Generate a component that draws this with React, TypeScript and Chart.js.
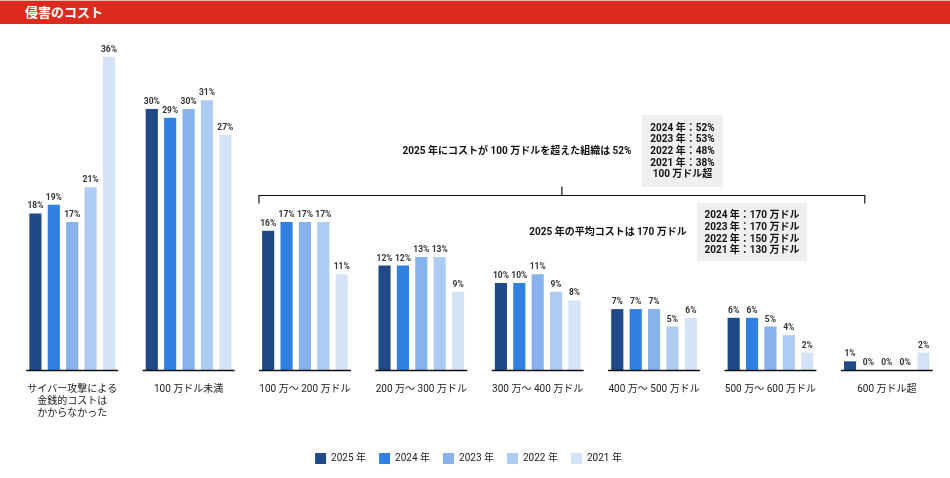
import { useEffect, useRef } from 'react';
import { Chart, registerables } from 'chart.js';

Chart.register(...registerables);

const FONT = 'Roboto, "Noto Sans CJK JP", sans-serif';

// 侵害のコスト（カテゴリ別）
const CATEGORIES: (string | string[])[] = [
  ['サイバー攻撃による', '金銭的コストは', 'かからなかった'],
  '100 万ドル未満',
  '100 万～ 200 万ドル',
  '200 万～ 300 万ドル',
  '300 万～ 400 万ドル',
  '400 万～ 500 万ドル',
  '500 万～ 600 万ドル',
  '600 万ドル超',
];

const YEARS = ['2025 年', '2024 年', '2023 年', '2022 年', '2021 年'];
const COLORS = ['#1F4A87', '#2F80E0', '#87B2EC', '#ADCBF3', '#D5E3F8'];

const Y2025 = [18, 30, 16, 12, 10, 7, 6, 1];
const Y2024 = [19, 29, 17, 12, 10, 7, 6, 0];
const Y2023 = [17, 30, 17, 13, 11, 7, 5, 0];
const Y2022 = [21, 31, 17, 13, 9, 5, 4, 0];
const Y2021 = [36, 27, 11, 9, 8, 6, 2, 2];

const OVER_1M_TEXT = '2025 年にコストが 100 万ドルを超えた組織は 52%';
const OVER_1M_BOX = ['2024 年：52%', '2023 年：53%', '2022 年：48%', '2021 年：38%', '100 万ドル超'];
const AVG_TEXT = '2025 年の平均コストは 170 万ドル';
const AVG_BOX = ['2024 年：170 万ドル', '2023 年：170 万ドル', '2022 年：150 万ドル', '2021 年：130 万ドル'];

const CAT_PCT = 0.79;

const decorPlugin = {
  id: 'decor',
  afterLayout(chart: any) {
    // 凡例をページ中央寄りに少し左へ
    if (chart.legend) {
      chart.legend.left -= 11;
      chart.legend.right -= 11;
    }
  },
  afterDatasetsDraw(chart: any) {
    const { ctx, chartArea, scales } = chart;
    const xs = scales.x;
    const catW = (chartArea.right - chartArea.left) / CATEGORIES.length;

    ctx.save();
    // グループごとのベースライン
    ctx.strokeStyle = '#111';
    ctx.lineWidth = 1.5;
    CATEGORIES.forEach((_, i) => {
      const cx = xs.getPixelForValue(i);
      ctx.beginPath();
      ctx.moveTo(cx - (catW * CAT_PCT) / 2, chartArea.bottom + 0.5);
      ctx.lineTo(cx + (catW * CAT_PCT) / 2, chartArea.bottom + 0.5);
      ctx.stroke();
    });

    // 値ラベル
    ctx.fillStyle = '#333';
    ctx.font = `bold 8.5px ${FONT}`;
    ctx.textAlign = 'center';
    ctx.textBaseline = 'alphabetic';
    chart.data.datasets.forEach((ds: any, di: number) => {
      const meta = chart.getDatasetMeta(di);
      meta.data.forEach((bar: any, i: number) => {
        ctx.fillText(`${ds.data[i]}%`, bar.x, bar.y - 5);
      });
    });

    // 100 万ドル超のブラケット
    const left = xs.getPixelForValue(2) - (catW * CAT_PCT) / 2;
    const right = xs.getPixelForValue(7) - 22;
    const by = 195.5;
    const mid = (left + right) / 2;
    ctx.strokeStyle = '#111';
    ctx.lineWidth = 1.2;
    ctx.beginPath();
    ctx.moveTo(left, by + 8);
    ctx.lineTo(left, by);
    ctx.lineTo(right, by);
    ctx.lineTo(right, by + 8);
    ctx.moveTo(mid, by);
    ctx.lineTo(mid, by - 9);
    ctx.stroke();

    ctx.fillStyle = '#111';
    ctx.font = `bold 10px ${FONT}`;
    ctx.textBaseline = 'middle';
    ctx.fillText(OVER_1M_TEXT, 517, 151);
    ctx.fillText(AVG_TEXT, 608, 232);

    // グレーのボックス
    ctx.fillStyle = '#EFEFEF';
    ctx.fillRect(642, 115, 81, 72);
    ctx.fillRect(697, 203, 110, 58);
    ctx.fillStyle = '#111';
    OVER_1M_BOX.forEach((t, i) => ctx.fillText(t, 682.5, 128 + i * 11.7));
    AVG_BOX.forEach((t, i) => ctx.fillText(t, 752, 215.5 + i * 11.8));
    ctx.restore();
  },
};

export default function App() {
  const canvasRef = useRef<HTMLCanvasElement>(null);

  useEffect(() => {
    if (!canvasRef.current) return;
    const series = [Y2025, Y2024, Y2023, Y2022, Y2021];
    const chart = new Chart(canvasRef.current, {
      type: 'bar',
      data: {
        labels: CATEGORIES,
        datasets: series.map((data, i) => ({
          label: YEARS[i],
          data,
          backgroundColor: COLORS[i],
          borderWidth: 0,
          categoryPercentage: CAT_PCT,
          barPercentage: 0.66,
        })),
      },
      options: {
        animation: false,
        responsive: false,
        devicePixelRatio: 1,
        layout: { padding: { left: 14, right: 5, top: 22, bottom: 4 } },
        plugins: {
          tooltip: { enabled: false },
          legend: {
            position: 'bottom',
            labels: {
              boxWidth: 11,
              boxHeight: 11,
              padding: 13,
              color: '#222',
              font: { family: FONT, size: 10 },
            },
          },
        },
        scales: {
          x: {
            grid: { display: false, drawTicks: false },
            border: { display: false },
            ticks: {
              color: '#222',
              padding: 13,
              font: { family: FONT, size: 10, lineHeight: 1.2 },
              maxRotation: 0,
              autoSkip: false,
            },
            afterFit: (scale: any) => {
              scale.height += 8;
            },
          },
          y: {
            display: false,
            min: 0,
            max: 40,
          },
        },
      },
      plugins: [decorPlugin],
    });
    return () => chart.destroy();
  }, []);

  return (
    <div style={{ position: 'fixed', left: 0, top: 0, width: 950, height: 478, background: '#fff' }}>
      <canvas ref={canvasRef} width={950} height={478} style={{ position: 'absolute', left: 0, top: 0 }} />
      <div
        style={{
          position: 'absolute',
          left: 0,
          top: 0,
          width: 950,
          height: 24,
          borderTop: '1px solid #E6B9B5',
          background: '#DB2A1E',
          color: '#fff',
          fontFamily: FONT,
          fontWeight: 'bold',
          fontSize: 13,
          lineHeight: '23px',
          paddingLeft: 25,
          boxSizing: 'border-box',
        }}
      >
        侵害のコスト
      </div>
    </div>
  );
}
